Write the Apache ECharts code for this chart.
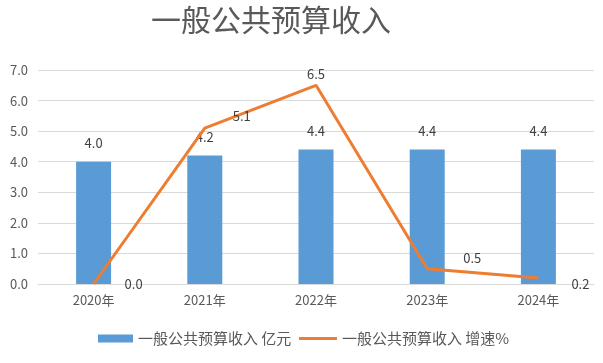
<!DOCTYPE html>
<html><head><meta charset="utf-8">
<script src="https://cdn.jsdelivr.net/npm/echarts@6/dist/echarts.min.js"></script>
<style>html,body{margin:0;padding:0;background:#fff}#c{width:603px;height:363px}</style>
</head><body><div id="c"></div>
<script>
var categories = ['2020年','2021年','2022年','2023年','2024年'];
var revenue = [4.0, 4.2, 4.4, 4.4, 4.4];
var growth = [0.0, 5.1, 6.5, 0.5, 0.2];
var yTicks = [0, 1, 2, 3, 4, 5, 6, 7];
var seriesNames = ['一般公共预算收入 亿元', '一般公共预算收入 增速%'];

var lineLabelOffsets = [[40,0],[37,-12],[0,-11],[45,-11],[42,6]];
var chart = echarts.init(document.getElementById('c'));
var font = '"Noto Sans CJK SC", "Noto Sans", sans-serif';
function fmt(p){ return Number(p.value).toFixed(1); }
chart.setOption({
  animation: false,
  textStyle: {fontFamily: font},
  title: {text: '一般公共预算收入', left: 146, top: 0,
    textStyle: {fontSize: 30, fontWeight: 'normal', color: '#595959', fontFamily: font}},
  legend: [
    {left: 98, top: 331, padding: 0, itemWidth: 35, itemHeight: 8, itemGap: 4,
      textStyle: {fontSize: 15, color: '#595959'},
      data: [{name: seriesNames[0], icon: 'rect'}]},
    {left: 299, top: 331, padding: 0, itemWidth: 38, itemHeight: 3, itemGap: 4,
      textStyle: {fontSize: 15, color: '#595959'},
      data: [{name: seriesNames[1], icon: 'rect'}]}
  ],
  grid: {left: 38, right: 9, top: 70, bottom: 79},
  xAxis: {type: 'category', data: categories,
    axisLine: {lineStyle: {color: '#d9d9d9'}}, axisTick: {show: false},
    axisLabel: {color: '#595959', fontSize: 13, margin: 10}},
  yAxis: {type: 'value', min: yTicks[0], max: yTicks[yTicks.length-1], interval: 1,
    axisLabel: {color: '#595959', fontSize: 13, formatter: function(v){return v.toFixed(1);}, margin: 10},
    splitLine: {lineStyle: {color: '#d9d9d9'}}, axisLine: {show: false}, axisTick: {show: false}},
  series: [
    {name: seriesNames[0], type: 'bar', barWidth: 35, data: revenue,
      itemStyle: {color: '#5b9bd5'},
      label: {show: true, position: 'top', distance: 12, color: '#404040', fontSize: 13, formatter: fmt}},
    {name: seriesNames[1], type: 'line', showSymbol: true, symbol: 'circle', symbolSize: 0,
      lineStyle: {color: '#ed7d31', width: 3}, itemStyle: {color: '#ed7d31'},
      data: growth.map(function(v, i){
        return {value: v, label: {show: true, position: 'inside', offset: lineLabelOffsets[i],
          color: '#404040', fontSize: 13, formatter: fmt}};
      })}
  ]
});
</script></body></html>
